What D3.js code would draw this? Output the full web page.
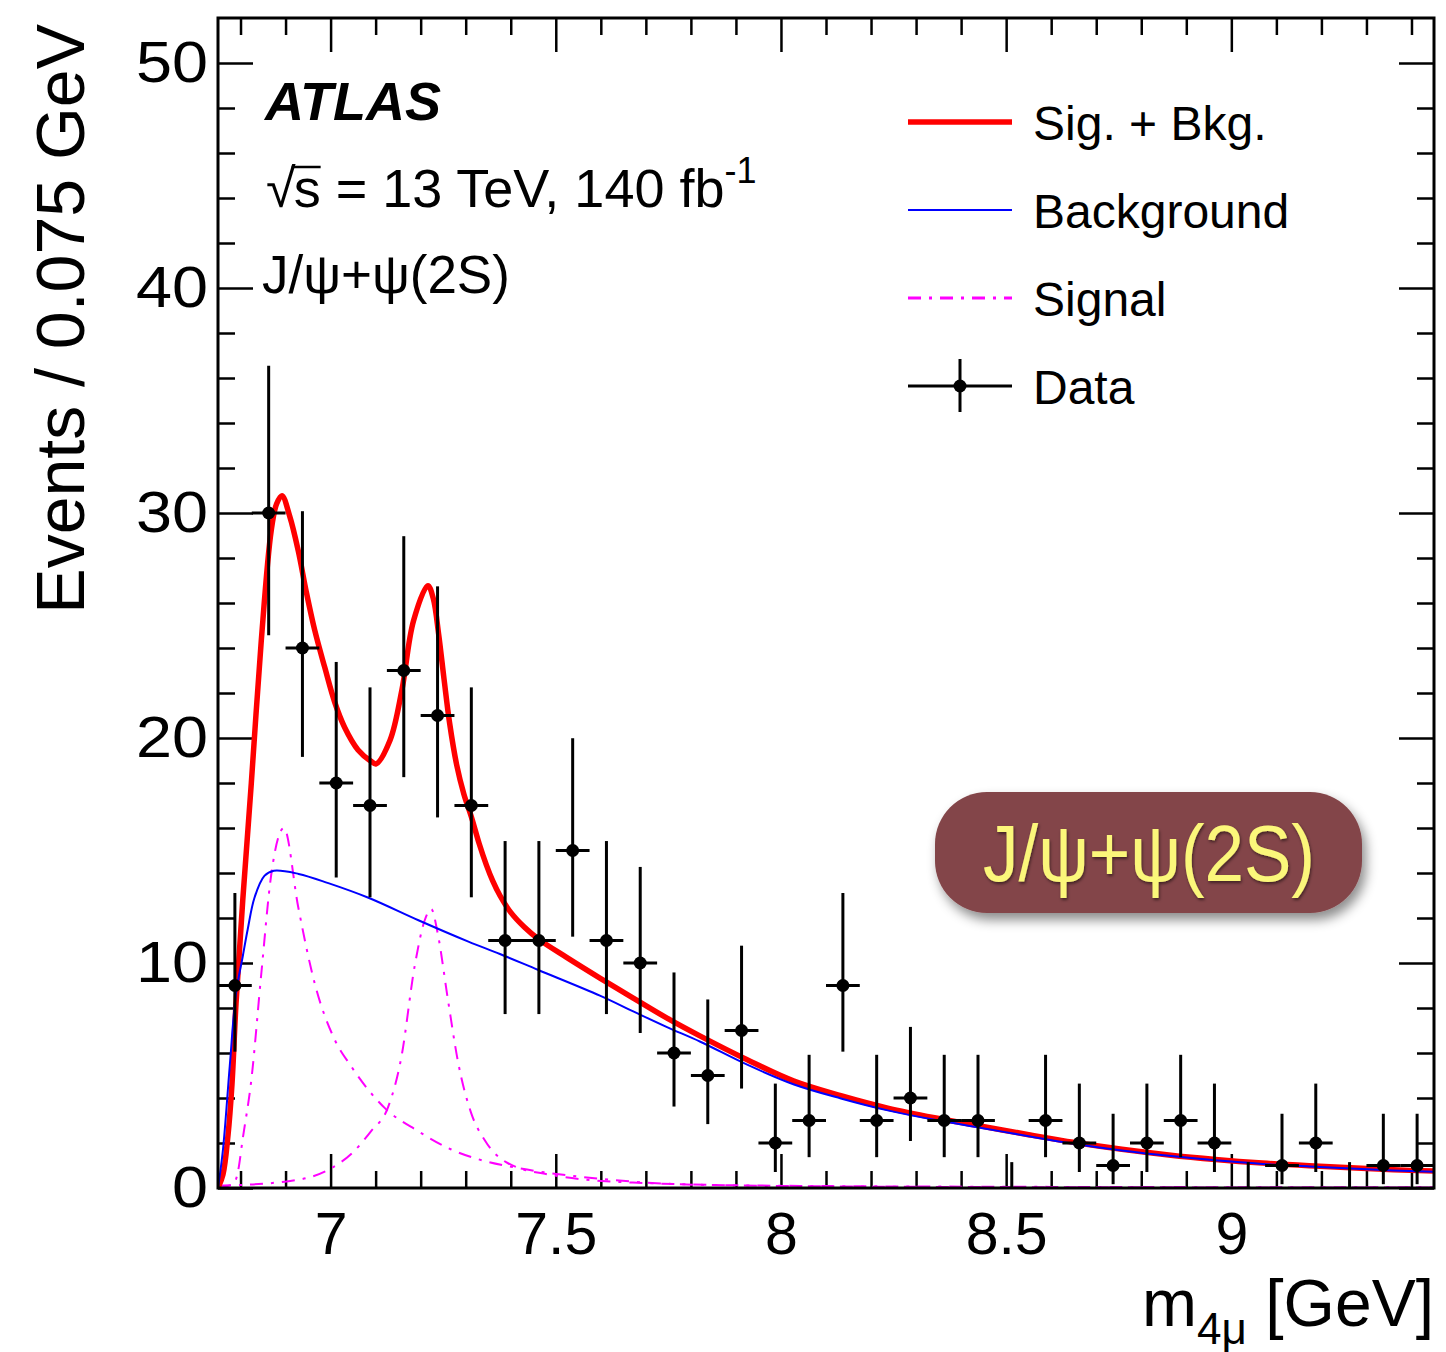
<!DOCTYPE html>
<html>
<head>
<meta charset="utf-8">
<script src="https://cdn.jsdelivr.net/npm/d3@7"></script>
<style>
  body { margin: 0; background: #fff; }
  svg { display: block; }
  text { font-family: "Liberation Sans", Arial, Helvetica, sans-serif; fill: #000; }
</style>
</head>
<body>
<svg id="chart"></svg>
<script>
// ---- data ----
const binCenters = [6.7875, 6.8625, 6.9375, 7.0125, 7.0875, 7.1625, 7.2375, 7.3125, 7.3875, 7.4625,
  7.5375, 7.6125, 7.6875, 7.7625, 7.8375, 7.9125, 7.9875, 8.0625, 8.1375, 8.2125,
  8.2875, 8.3625, 8.4375, 8.5125, 8.5875, 8.6625, 8.7375, 8.8125, 8.8875, 8.9625,
  9.0375, 9.1125, 9.1875, 9.2625, 9.3375, 9.4125];
const counts = [9, 30, 24, 18, 17, 23, 21, 17, 11, 11, 15, 11, 10, 6, 5, 7, 2, 3, 9, 3,
  4, 3, 3, 0, 3, 2, 1, 2, 3, 2, 0, 1, 2, 0, 1, 1];
const errLow = [2.94, 5.43, 4.84, 4.20, 4.08, 4.74, 4.53, 4.08, 3.27, 3.27, 3.83, 3.27, 3.11, 2.38, 2.16, 2.58, 1.29, 1.63, 2.94, 1.63,
  1.91, 1.63, 1.63, 0, 1.63, 1.29, 0.83, 1.29, 1.63, 1.29, 0, 0.83, 1.29, 0, 0.83, 0.83];
const errHigh = [4.11, 6.55, 6.08, 5.38, 5.25, 5.97, 5.74, 5.25, 4.42, 4.42, 4.99, 4.42, 4.27, 3.58, 3.38, 3.77, 2.64, 2.92, 4.11, 2.92,
  3.16, 2.92, 2.92, 1.15, 2.92, 2.64, 2.30, 2.64, 2.92, 2.64, 1.15, 2.30, 2.64, 1.15, 2.30, 2.30];
const binHalfWidth = 0.0375;

// Sig. + Bkg. fit curve
const sbMass = [6.750, 6.761, 6.772, 6.781, 6.790, 6.805, 6.824, 6.846, 6.868, 6.880, 6.892,
  6.909, 6.928, 6.946, 6.965, 6.987, 7.009, 7.031, 7.061, 7.090, 7.101,
  7.132, 7.158, 7.184, 7.216, 7.228, 7.240, 7.252, 7.264, 7.280, 7.296, 7.3125, 7.330, 7.346, 7.360,
  7.376, 7.400, 7.430, 7.4625, 7.524, 7.598, 7.672, 7.747,
  7.821, 7.925, 8.029, 8.133, 8.237, 8.341, 8.445, 8.550, 8.653, 8.757, 8.861,
  8.965, 9.069, 9.173, 9.277, 9.360, 9.450];
const sbVal = [0, 0.6, 2.3, 4.6, 8.2, 12.8, 18.0, 24.3, 29.2, 30.4, 30.77,
  29.87, 28.34, 26.5, 24.77, 23.14, 21.6, 20.48, 19.47, 18.96, 18.85,
  19.9, 22.1, 25.2, 26.77, 26.2, 24.6, 22.6, 20.7, 18.8, 17.5, 16.5, 15.3, 14.35, 13.65,
  13.0, 12.25, 11.6, 11.05, 10.25, 9.33, 8.44, 7.55,
  6.75, 5.7, 4.75, 4.1, 3.55, 3.12, 2.75, 2.37, 2.02, 1.72, 1.47,
  1.27, 1.11, 0.99, 0.89, 0.81, 0.75];

// Background component
const bkgMass = [6.750, 6.761, 6.776, 6.790, 6.805, 6.816, 6.831, 6.853, 6.874, 6.929, 6.995, 7.084, 7.195, 7.306,
  7.376, 7.460, 7.598, 7.672, 7.747, 7.821, 7.925, 8.029, 8.133, 8.237, 8.341, 8.445, 8.550, 8.653,
  8.757, 8.861, 8.965, 9.069, 9.173, 9.277, 9.360, 9.450];
const bkgVal = [0, 1.7, 5.4, 8.65, 10.3, 11.5, 12.9, 13.87, 14.1, 13.96, 13.55, 12.9, 11.9, 10.95,
  10.4, 9.7, 8.55, 7.85, 7.15, 6.5, 5.48, 4.6, 3.98, 3.45, 3.03, 2.67, 2.3, 1.96,
  1.67, 1.43, 1.23, 1.07, 0.96, 0.86, 0.78, 0.72];

// Signal components (two peaks)
const sig1Mass = [6.750, 6.785, 6.794, 6.805, 6.824, 6.846, 6.868, 6.8965, 6.928, 6.965, 7.009, 7.046, 7.120, 7.194,
  7.268, 7.342, 7.416, 7.598, 7.820, 8.200, 8.800, 9.450];
const sig1Val = [0, 0.2, 0.7, 2.2, 4.8, 9.5, 13.9, 16.0, 12.5, 9.07, 6.6, 5.4, 3.56, 2.53,
  1.71, 1.2, 0.89, 0.41, 0.14, 0.06, 0.03, 0.02];
const sig2Mass = [6.750, 6.898, 6.994, 7.045, 7.090, 7.127, 7.157, 7.187, 7.209, 7.2235, 7.238, 7.260, 7.283,
  7.312, 7.342, 7.394, 7.487, 7.671, 8.000, 8.600, 9.450];
const sig2Val = [0.1, 0.28, 0.8, 1.5, 2.53, 3.56, 5.8, 9.9, 11.9, 12.4, 11.3, 8.44, 5.6,
  3.34, 2.13, 1.1, 0.59, 0.24, 0.1, 0.05, 0.03];

const xMajorTicks = [7, 7.5, 8, 8.5, 9];
const yMajorTicks = [0, 10, 20, 30, 40, 50];
const legendLabels = ["Sig. + Bkg.", "Background", "Signal", "Data"];

// ---- layout ----
const width = 1446, height = 1352;
const plot = { left: 218, right: 1434, top: 18, bottom: 1188 };

const svg = d3.select("#chart").attr("width", width).attr("height", height);
svg.append("rect").attr("width", width).attr("height", height).attr("fill", "#fff");

const x = d3.scaleLinear().domain([6.75, 9.45]).range([plot.left, plot.right]);
const y = d3.scaleLinear().domain([0, 52]).range([plot.bottom, plot.top]);

const defs = svg.append("defs");
defs.append("clipPath").attr("id", "clip")
  .append("rect")
  .attr("x", plot.left).attr("y", plot.top)
  .attr("width", plot.right - plot.left).attr("height", plot.bottom - plot.top);

// ---- axes (ticks on all four sides, ROOT style) ----
const xMinor = d3.range(6.8, 9.45, 0.1).map(v => +v.toFixed(2)).filter(v => !xMajorTicks.includes(v));
const yMinor = d3.range(2, 52, 2).filter(v => v % 10 !== 0);

function drawAxis(axisGen, transform, minorVals, majorVals, minorLen, majorLen, labels) {
  const gMinor = svg.append("g").attr("transform", transform)
    .call(axisGen.tickValues(minorVals).tickSizeInner(-minorLen).tickSizeOuter(0).tickFormat(""));
  gMinor.select(".domain").remove();
  gMinor.selectAll("line").attr("stroke", "#000").attr("stroke-width", 2.5);
  const gMajor = svg.append("g").attr("transform", transform)
    .call(axisGen.tickValues(majorVals).tickSizeInner(-majorLen).tickSizeOuter(0)
      .tickFormat(labels ? d3.format("") : ""));
  gMajor.select(".domain").remove();
  gMajor.selectAll("line").attr("stroke", "#000").attr("stroke-width", 2.5);
  return gMajor;
}

const gx = drawAxis(d3.axisBottom(x).tickPadding(24), `translate(0,${plot.bottom})`, xMinor, xMajorTicks, 17, 34, true);
gx.selectAll("text").attr("font-size", 59).attr("font-family", "Liberation Sans, Arial, sans-serif");
drawAxis(d3.axisTop(x), `translate(0,${plot.top})`, xMinor, xMajorTicks, 17, 34, false);

const gy = drawAxis(d3.axisLeft(y).tickPadding(10), `translate(${plot.left},0)`, yMinor, yMajorTicks, 17, 35, true);
gy.selectAll("text").attr("font-size", 58).attr("font-family", "Liberation Sans, Arial, sans-serif")
  .attr("textLength", d => String(d).length * 36).attr("lengthAdjust", "spacingAndGlyphs");
drawAxis(d3.axisRight(y), `translate(${plot.right},0)`, yMinor, yMajorTicks, 17, 35, false);

// ---- curves ----
const smoothLine = d3.line().x(d => x(d[0])).y(d => y(d[1])).curve(d3.curveCatmullRom.alpha(0.5));
const peakLine = d3.line().x(d => x(d[0])).y(d => y(d[1])).curve(d3.curveMonotoneX);
const curves = svg.append("g").attr("clip-path", "url(#clip)");

curves.append("path").datum(d3.zip(sig1Mass, sig1Val)).attr("d", peakLine)
  .attr("fill", "none").attr("stroke", "#ff00ff").attr("stroke-width", 2).attr("stroke-dasharray", "13,8,3,8");
curves.append("path").datum(d3.zip(sig2Mass, sig2Val)).attr("d", peakLine)
  .attr("fill", "none").attr("stroke", "#ff00ff").attr("stroke-width", 2).attr("stroke-dasharray", "13,8,3,8");
curves.append("path").datum(d3.zip(sbMass, sbVal)).attr("d", smoothLine)
  .attr("fill", "none").attr("stroke", "#ff0000").attr("stroke-width", 5.5).attr("stroke-linejoin", "round");
curves.append("path").datum(d3.zip(bkgMass, bkgVal)).attr("d", smoothLine)
  .attr("fill", "none").attr("stroke", "#0000ff").attr("stroke-width", 2);

// ---- data points ----
const pts = binCenters.map((m, i) => ({ m, n: counts[i], lo: errLow[i], hi: errHigh[i] }));
const gData = svg.append("g").attr("clip-path", "url(#clip)");
gData.selectAll("line.v").data(pts).enter().append("line")
  .attr("x1", d => x(d.m)).attr("x2", d => x(d.m))
  .attr("y1", d => y(d.n - d.lo)).attr("y2", d => y(d.n + d.hi))
  .attr("stroke", "#000").attr("stroke-width", 3);
const nonZero = pts.filter(d => d.n > 0);
gData.selectAll("line.h").data(nonZero).enter().append("line")
  .attr("x1", d => x(d.m - binHalfWidth)).attr("x2", d => x(d.m + binHalfWidth))
  .attr("y1", d => y(d.n)).attr("y2", d => y(d.n))
  .attr("stroke", "#000").attr("stroke-width", 3);
gData.selectAll("circle").data(nonZero).enter().append("circle")
  .attr("cx", d => x(d.m)).attr("cy", d => y(d.n)).attr("r", 6.5).attr("fill", "#000");

// ---- frame ----
svg.append("rect")
  .attr("x", plot.left).attr("y", plot.top)
  .attr("width", plot.right - plot.left).attr("height", plot.bottom - plot.top)
  .attr("fill", "none").attr("stroke", "#000").attr("stroke-width", 3);

// ---- axis titles ----
svg.append("text")
  .attr("transform", "translate(84,24) rotate(-90)")
  .attr("text-anchor", "end").attr("font-size", 68)
  .text("Events / 0.075 GeV");

const xt = svg.append("text").attr("x", plot.right).attr("y", 1326)
  .attr("text-anchor", "end").attr("font-size", 66);
xt.append("tspan").text("m");
xt.append("tspan").attr("font-size", 44).attr("dy", 18).text("4μ");
xt.append("tspan").attr("dy", -18).text(" [GeV]");

// ---- ATLAS labels ----
svg.append("text").attr("x", 265).attr("y", 120)
  .attr("font-size", 54).attr("font-weight", "bold").attr("font-style", "italic")
  .text("ATLAS");

const sq = svg.append("text").attr("x", 266).attr("y", 207).attr("font-size", 54).text("√");
const sqW = sq.node().getComputedTextLength();
const sLine = svg.append("text").attr("x", 266 + sqW - 2).attr("y", 207).attr("font-size", 54);
sLine.append("tspan").text("s = 13 TeV, 140 fb");
sLine.append("tspan").attr("font-size", 36).attr("dy", -24).text("-1");
const sW = svg.append("text").attr("x", -100).attr("y", -100).attr("font-size", 54).text("s");
const sWidth = sW.node().getComputedTextLength();
sW.remove();
svg.append("line")
  .attr("x1", 266 + sqW - 4).attr("x2", 266 + sqW - 2 + sWidth)
  .attr("y1", 167).attr("y2", 167)
  .attr("stroke", "#000").attr("stroke-width", 2.5);

svg.append("text").attr("x", 262).attr("y", 293).attr("font-size", 53).text("J/ψ+ψ(2S)");

// ---- legend ----
const legend = svg.append("g");
const rowY = [122, 210, 298, 386];
legend.append("line").attr("x1", 908).attr("x2", 1012).attr("y1", rowY[0]).attr("y2", rowY[0])
  .attr("stroke", "#ff0000").attr("stroke-width", 5.5);
legend.append("line").attr("x1", 908).attr("x2", 1012).attr("y1", rowY[1]).attr("y2", rowY[1])
  .attr("stroke", "#0000ff").attr("stroke-width", 2);
legend.append("line").attr("x1", 908).attr("x2", 1012).attr("y1", rowY[2]).attr("y2", rowY[2])
  .attr("stroke", "#ff00ff").attr("stroke-width", 3).attr("stroke-dasharray", "13,8,3,8");
legend.append("line").attr("x1", 908).attr("x2", 1012).attr("y1", rowY[3]).attr("y2", rowY[3])
  .attr("stroke", "#000").attr("stroke-width", 3);
legend.append("line").attr("x1", 960).attr("x2", 960).attr("y1", rowY[3] - 27).attr("y2", rowY[3] + 26)
  .attr("stroke", "#000").attr("stroke-width", 3);
legend.append("circle").attr("cx", 960).attr("cy", rowY[3]).attr("r", 6.5).attr("fill", "#000");
legend.selectAll("text").data(legendLabels).enter().append("text")
  .attr("x", 1033).attr("y", (d, i) => rowY[i] + 18)
  .attr("font-size", 48)
  .text(d => d);

// ---- badge ----
const f = defs.append("filter").attr("id", "shadow").attr("x", "-20%").attr("y", "-30%")
  .attr("width", "140%").attr("height", "170%");
f.append("feDropShadow").attr("dx", 4).attr("dy", 7).attr("stdDeviation", 6)
  .attr("flood-color", "#000").attr("flood-opacity", 0.45);
const tf = defs.append("filter").attr("id", "tshadow");
tf.append("feDropShadow").attr("dx", 1).attr("dy", 2).attr("stdDeviation", 1.5)
  .attr("flood-color", "#000").attr("flood-opacity", 0.5);

svg.append("rect").attr("x", 935).attr("y", 792).attr("width", 427).attr("height", 121)
  .attr("rx", 52).attr("ry", 52)
  .attr("fill", "#834548").attr("filter", "url(#shadow)");
svg.append("text").attr("x", 1149).attr("y", 881)
  .attr("text-anchor", "middle")
  .attr("font-family", "Lato, 'Open Sans', sans-serif")
  .attr("font-size", 80)
  .attr("textLength", 332).attr("lengthAdjust", "spacingAndGlyphs")
  .attr("filter", "url(#tshadow)")
  .style("fill", "#fbf77a")
  .text("J/ψ+ψ(2S)");
</script>
</body>
</html>
